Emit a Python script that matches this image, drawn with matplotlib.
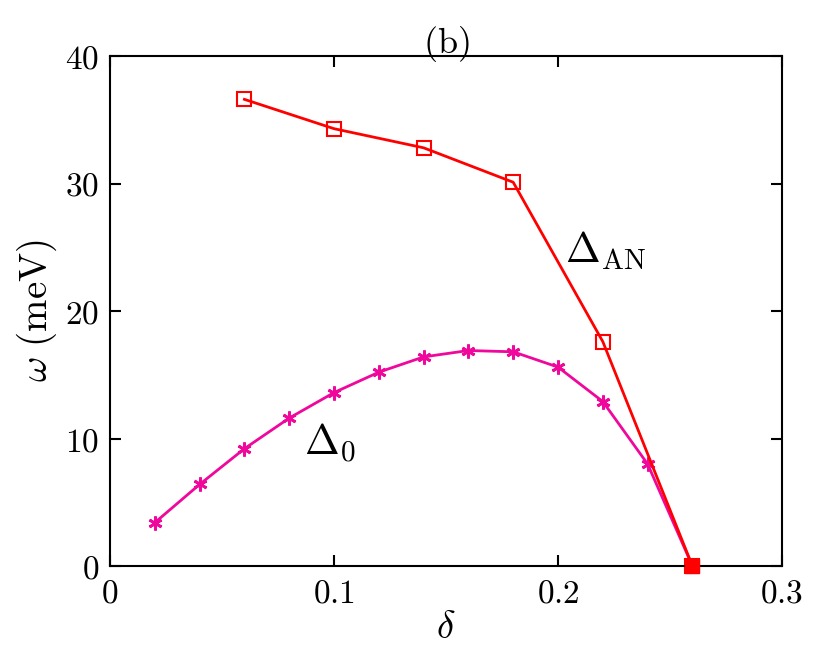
import matplotlib
matplotlib.use("Agg")
import matplotlib.pyplot as plt

plt.rcParams["mathtext.fontset"] = "cm"
plt.rcParams["font.family"] = "serif"
plt.rcParams["font.serif"] = ["DejaVu Serif"]

delta_an = [0.06, 0.10, 0.14, 0.18, 0.22, 0.26]
omega_an = [36.6, 34.3, 32.8, 30.1, 17.6, 0.0]
delta_0 = [0.02, 0.04, 0.06, 0.08, 0.10, 0.12, 0.14, 0.16, 0.18, 0.20, 0.22, 0.24, 0.26]
omega_0 = [3.4, 6.4, 9.2, 11.6, 13.6, 15.2, 16.4, 16.9, 16.8, 15.6, 12.9, 8.0, 0.0]
xticks = [0, 0.1, 0.2, 0.3]
xticklabels = ["0", "0.1", "0.2", "0.3"]
yticks = [0, 10, 20, 30, 40]

fig = plt.figure(figsize=(8.3, 6.57), dpi=100)
ax = fig.add_axes([110/830, 1-566/657, 672/830, 510/657])
ax.plot(delta_0, omega_0, color="#f0079b", lw=2, marker=(6, 2, 0), ms=10, mew=2, clip_on=False)
ax.plot(delta_an, omega_an, color="#ff0000", lw=2, marker="s", ms=10, mfc="none", mew=1.5, clip_on=False)
ax.plot([0.26], [0], marker="s", color="#ff0000", ms=10, clip_on=False, zorder=5)
ax.set_xlim(0, 0.3)
ax.set_ylim(0, 40)
ax.set_xticks(xticks)
ax.set_xticklabels([f"${t}$" for t in xticklabels])
ax.set_yticks(yticks)
ax.set_yticklabels([f"${t}$" for t in yticks])
ax.tick_params(direction="in", labelsize=24, length=8, width=1.5, top=True, right=True, pad=8)
for s in ax.spines.values():
    s.set_linewidth(1.5)
ax.set_xlabel(r"$\delta$", fontsize=28, labelpad=0)
ax.set_ylabel(r"$\omega\ (\mathrm{meV})$", fontsize=28)
ax.set_title(r"$\mathrm{(b)}$", fontsize=26, pad=2)
ax.text(0.203, 23.8, r"$\Delta_{\mathrm{AN}}$", fontsize=30)
ax.text(0.0865, 8.7, r"$\Delta_0$", fontsize=30)
fig.savefig("out.png", dpi=100)
